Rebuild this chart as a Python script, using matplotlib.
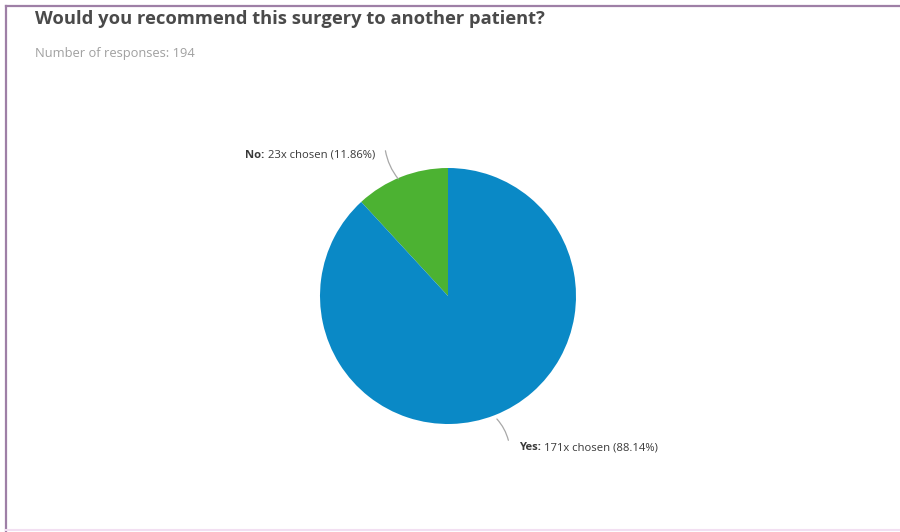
import matplotlib.pyplot as plt
from matplotlib.lines import Line2D

title = 'Would you recommend this surgery to another patient?'
n_responses = 194
answers = ['No', 'Yes']
counts = [23, 171]
percents = [11.86, 88.14]
colors = ['#4cb232', '#0a89c6']

W, H = 900, 532
fig = plt.figure(figsize=(W / 100, H / 100), dpi=100)

def fx(px):
    return px / W

def fy(py):
    return 1 - py / H

# frame lines
fig.add_artist(Line2D([fx(6), 1], [fy(6), fy(6)], color='#9e7fa6', lw=1.6))
fig.add_artist(Line2D([fx(6), fx(6)], [fy(6), 0], color='#9e7fa6', lw=1.6))
fig.add_artist(Line2D([fx(6), 1], [fy(530), fy(530)], color='#f2dff2', lw=1.5))

fig.text(fx(35), fy(19), title, fontsize=13.25, fontweight='bold',
         family='Open Sans', color='#4a4a4a', va='center', ha='left')
fig.text(fx(35), fy(53), f'Number of responses: {n_responses}', fontsize=9.3,
         family='Open Sans', color='#a0a0a0', va='center', ha='left')

# pie, centre (448, 296) px, radius 128 px
cx, cy, r = 448, 296, 128
ax = fig.add_axes([fx(cx - r), fy(cy + r), 2 * r / W, 2 * r / H])
ax.pie(counts, colors=colors, startangle=90, counterclock=True, radius=1,
       wedgeprops=dict(linewidth=0))
ax.set_xlim(-1, 1)
ax.set_ylim(-1, 1)
ax.set_aspect('auto')
ax.axis('off')

renderer = fig.canvas.get_renderer()

def label(name, rest, x, y, ha):
    # bold "Name:" followed by regular text, in pixel positions
    kw = dict(fontsize=8.1, family='Open Sans', color='#3a3a3a', va='center')
    if ha == 'left':
        b = fig.text(fx(x), fy(y), name + ':', fontweight='bold', ha='left', **kw)
        w = b.get_window_extent(renderer).width
        fig.text(fx(x + w + 3), fy(y), rest, ha='left', **kw)
    else:
        t = fig.text(fx(x), fy(y), rest, ha='right', **kw)
        w = t.get_window_extent(renderer).width
        fig.text(fx(x - w - 3), fy(y), name + ':', fontweight='bold', ha='right', **kw)

def to_data(px, py):
    return ((px - cx) / r, (cy - py) / r)

label_pos = {'No': (375, 155, 'right'), 'Yes': (519, 448, 'left')}
leaders = {'No': ((400, 181), (385, 148)), 'Yes': ((495, 417), (509, 443))}

for name, c, p in zip(answers, counts, percents):
    x, y, ha = label_pos[name]
    label(name, f'{c}x chosen ({p:.2f}%)', x, y, ha)
    (x0, y0), (x1, y1) = leaders[name]
    ax.annotate('', xy=to_data(x1, y1), xytext=to_data(x0, y0),
                arrowprops=dict(arrowstyle='-', color='#a8a8a8', lw=0.9,
                                connectionstyle='arc3,rad=-0.15'),
                annotation_clip=False)

fig.savefig('out.png', dpi=100, facecolor='white')
